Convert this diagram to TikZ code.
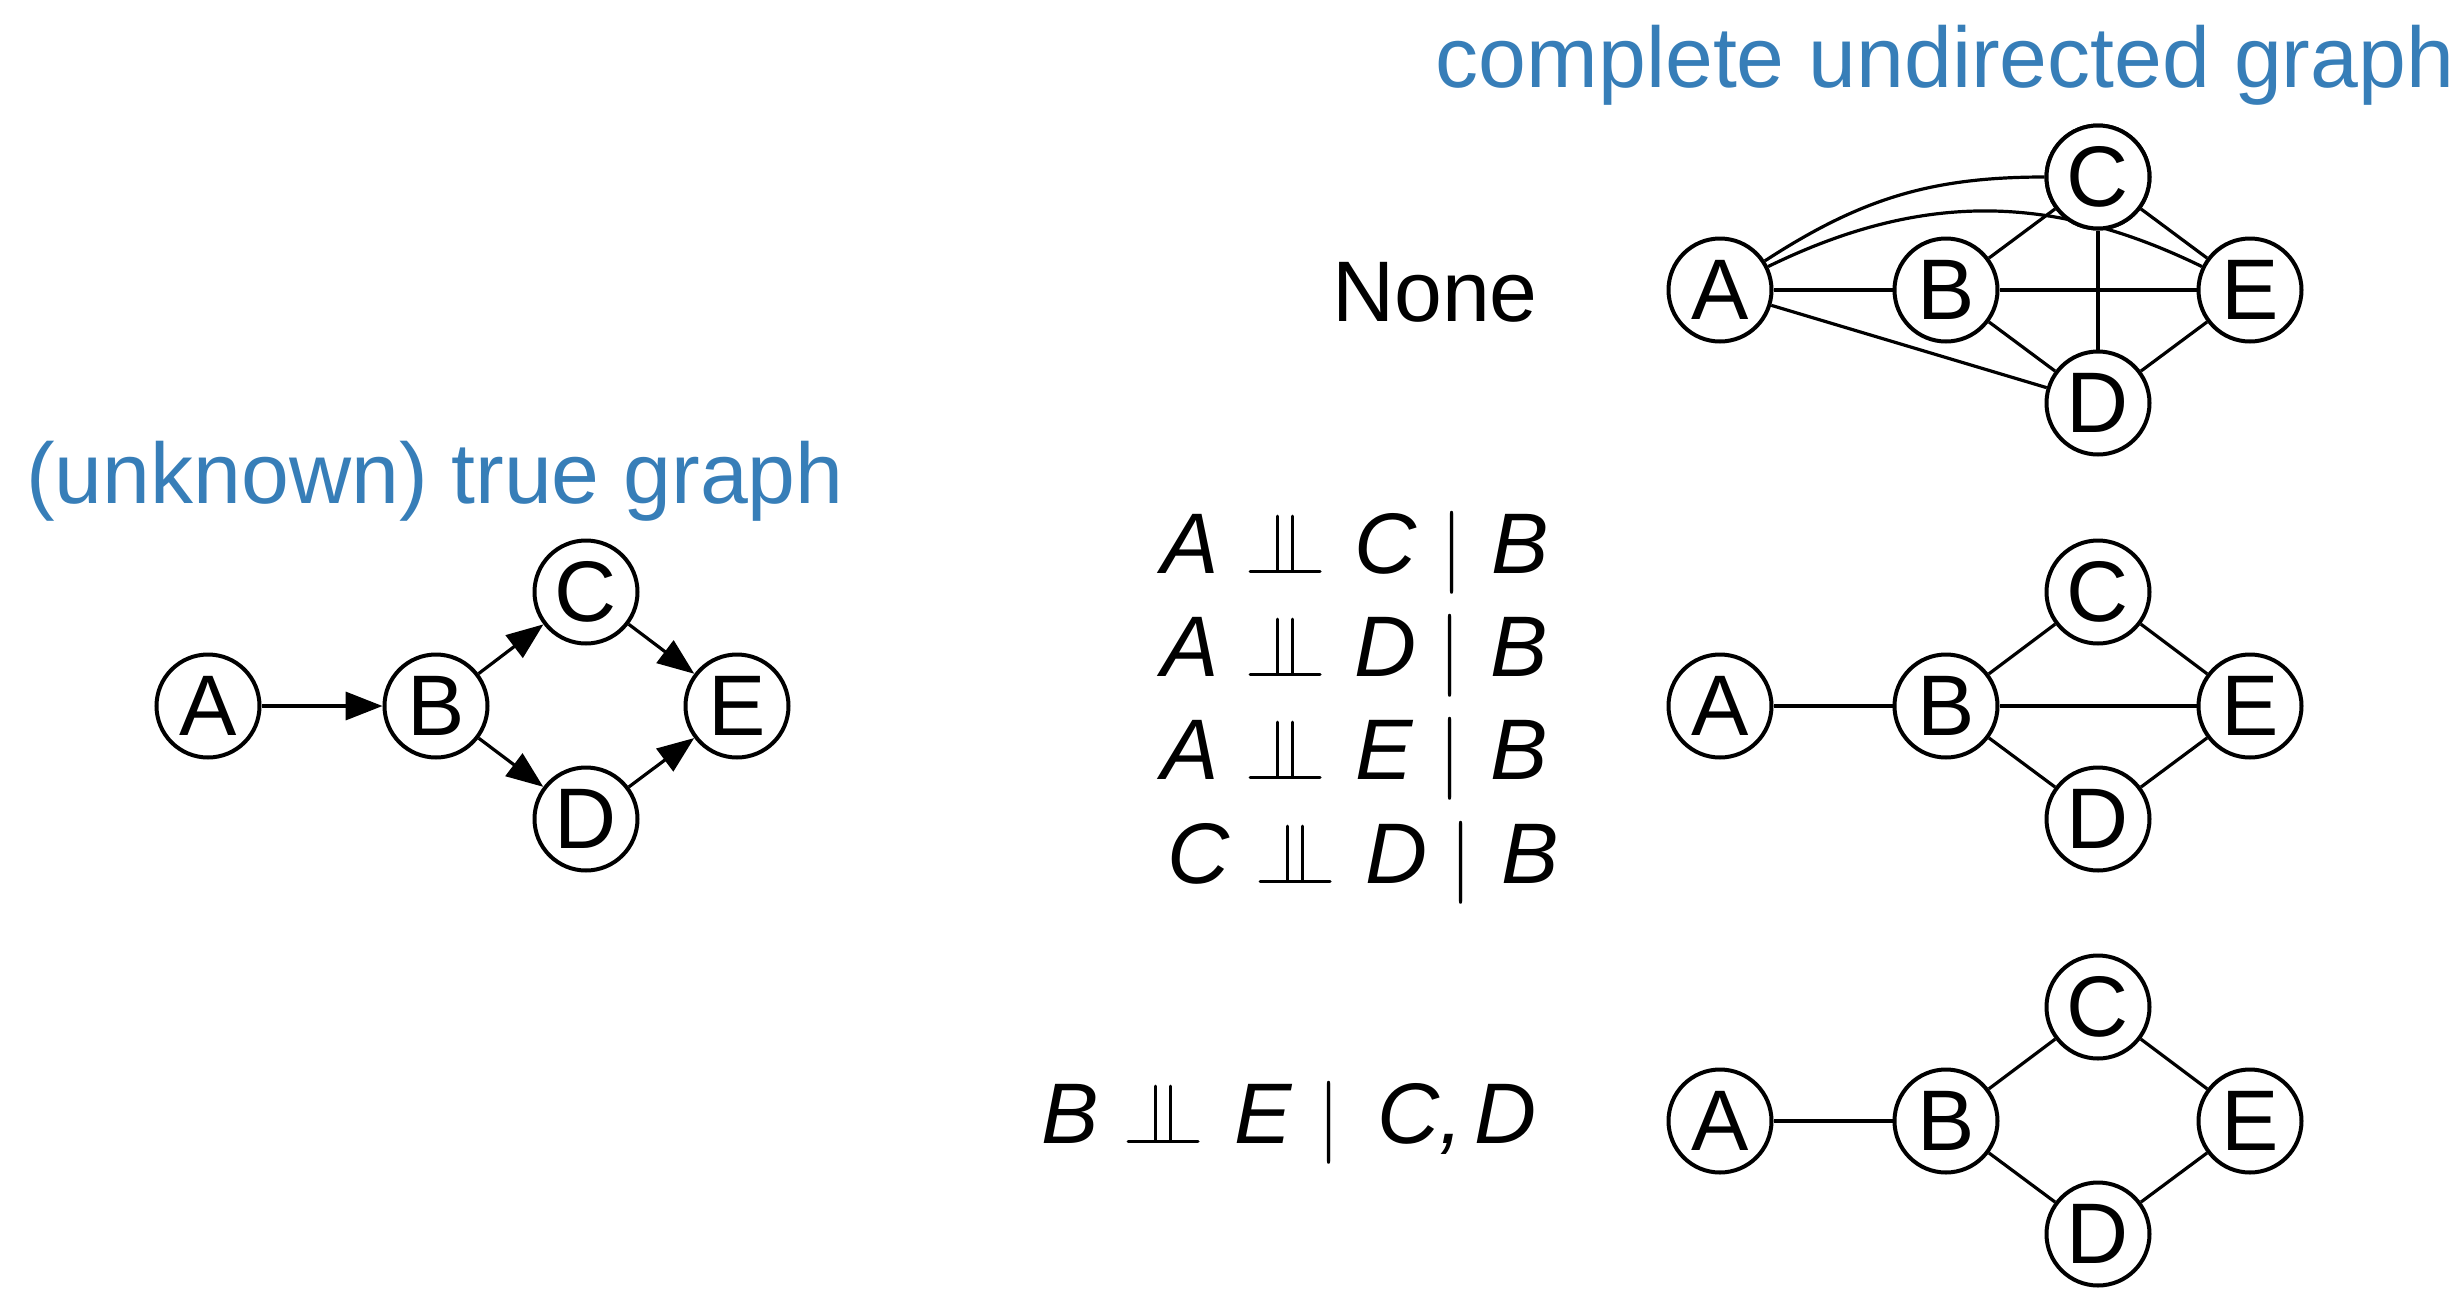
\documentclass[tikz,border=0pt]{standalone}
\usepackage{fontspec}
\setmainfont{Liberation Sans}
\usetikzlibrary{arrows.meta}
\definecolor{titleblue}{RGB}{55,126,184}
\tikzset{
  vnode/.style={circle,draw,line width=1pt,minimum size=25.75pt,inner sep=0pt,fill=white,font=\fontsize{21.5}{24}\selectfont},
  edge/.style={line width=0.8pt},
  arr/.style={line width=0.8pt,-{Triangle[length=9.2pt,width=7pt]}},
  title/.style={text=titleblue,font=\fontsize{21.5}{24}\selectfont,anchor=base,inner sep=0pt},
  ftxt/.style={font=\fontsize{21.5}{24}\selectfont,anchor=base,inner sep=0pt},
  fit/.style={font=\fontsize{21.5}{24}\selectfont\itshape,anchor=base,inner sep=0pt},
  indep/.style={line width=0.75pt,line cap=round}
}
\begin{document}
\begin{tikzpicture}[x=0.25pt,y=-0.25pt]
\useasboundingbox (0,0) rectangle (2456,1297);

% titles
\node[title] (t1) at (1945,87) {complete undirected graph};
\node[title] (t2) at (435,503) {(unknown) true graph};

% left true graph
\node[vnode] (lA) at (208,706) {A};
\node[vnode] (lB) at (436,706) {B};
\node[vnode] (lC) at (586,592) {C};
\node[vnode] (lD) at (586,819) {D};
\node[vnode] (lE) at (737,706) {E};
\draw[arr] (lA) -- (lB);
\draw[arr] (lB) -- (lC);
\draw[arr] (lB) -- (lD);
\draw[arr] (lC) -- (lE);
\draw[arr] (lD) -- (lE);

% top right complete graph
\node[vnode] (aA) at (1720,290) {A};
\node[vnode] (aB) at (1946,290) {B};
\node[vnode] (aC) at (2098,177) {C};
\node[vnode] (aD) at (2098,403) {D};
\node[vnode] (aE) at (2250,290) {E};
\draw[edge] (aA) to[out=33,in=180] (aC);
\draw[edge] (aA) to[out=26,in=154] (aE);
\draw[edge] (aA) -- (aB);
\draw[edge] (aA) -- (aD);
\draw[edge] (aB) -- (aC);
\draw[edge] (aB) -- (aD);
\draw[edge] (aB) -- (aE);
\draw[edge] (aC) -- (aD);
\draw[edge] (aC) -- (aE);
\draw[edge] (aD) -- (aE);
\node[vnode] (aC2) at (aC) {C};
\node[ftxt] (none) at (1435,321) {None};

% middle right graph
\node[vnode] (bA) at (1720,706) {A};
\node[vnode] (bB) at (1946,706) {B};
\node[vnode] (bC) at (2098,592) {C};
\node[vnode] (bD) at (2098,819) {D};
\node[vnode] (bE) at (2250,706) {E};
\draw[edge] (bA) -- (bB);
\draw[edge] (bB) -- (bC);
\draw[edge] (bB) -- (bD);
\draw[edge] (bB) -- (bE);
\draw[edge] (bC) -- (bE);
\draw[edge] (bD) -- (bE);

% bottom right graph
\node[vnode] (cA) at (1720,1121) {A};
\node[vnode] (cB) at (1946,1121) {B};
\node[vnode] (cC) at (2098,1007) {C};
\node[vnode] (cD) at (2098,1234) {D};
\node[vnode] (cE) at (2250,1121) {E};
\draw[edge] (cA) -- (cB);
\draw[edge] (cB) -- (cC);
\draw[edge] (cB) -- (cD);
\draw[edge] (cC) -- (cE);
\draw[edge] (cD) -- (cE);

% independence statements
\newcommand{\indepsym}[2]{% #1 = left x, #2 = baseline y
  \draw[indep] (#1,#2-2) -- ++(70,0);
  \draw[indep] (#1+27,#2-2) -- ++(0,-55);
  \draw[indep] (#1+42,#2-2) -- ++(0,-55);
}
\newcommand{\gbar}{$|$}
% row 1
\node[fit] (r1a) at (1190,573) {A};
\indepsym{1250}{573}
\node[fit] (r1b) at (1386,573) {C};
\node[ftxt] (r1c) at (1452,573) {\gbar};
\node[fit] (r1d) at (1520,573) {B};
% row 2
\node[fit] (r2a) at (1190,676) {A};
\indepsym{1250}{676}
\node[fit] (r2b) at (1386,676) {D};
\node[ftxt] (r2c) at (1450,676) {\gbar};
\node[fit] (r2d) at (1519,676) {B};
% row 3
\node[fit] (r3a) at (1190,779) {A};
\indepsym{1250}{779}
\node[fit] (r3b) at (1384,779) {E};
\node[ftxt] (r3c) at (1450,779) {\gbar};
\node[fit] (r3d) at (1519,779) {B};
% row 4
\node[fit] (r4a) at (1199,883) {C};
\indepsym{1260}{883}
\node[fit] (r4b) at (1397,883) {D};
\node[ftxt] (r4c) at (1461,883) {\gbar};
\node[fit] (r4d) at (1530,883) {B};
% bottom statement
\node[fit] (s1) at (1070,1143) {B};
\indepsym{1128}{1143}
\node[fit] (s2) at (1263,1143) {E};
\node[ftxt] (s3) at (1329,1143) {\gbar};
\node[fit] (s4) at (1420,1143) {C,};
\node[fit] (s5) at (1506,1143) {D};
\end{tikzpicture}
\end{document}
